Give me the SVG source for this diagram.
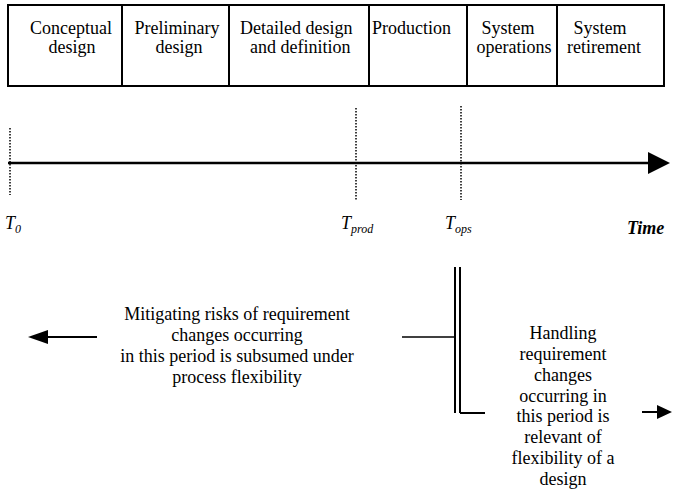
<svg xmlns="http://www.w3.org/2000/svg" width="673" height="491" viewBox="0 0 673 491" font-family="'Liberation Serif', 'Times New Roman', Times, 'DejaVu Serif', serif">
<style>
text{font-family:'Liberation Serif','Times New Roman',Times,'DejaVu Serif',serif;fill:#000;}
.h{font-size:18px;}
.c{text-anchor:middle;}
.t{font-size:18px;font-style:italic;}
.s{font-size:12px;font-style:italic;}
.ln{stroke:#000;fill:none;}
.dot{stroke:#000;stroke-width:1.5;stroke-dasharray:1.5 1.5;fill:none;}
</style>
<g id="phases">
<rect x="8" y="5" width="656" height="81" class="ln" stroke-width="2"/>
<g class="ln" stroke-width="2">
<line x1="122" y1="5" x2="122" y2="86"/>
<line x1="229" y1="5" x2="229" y2="86"/>
<line x1="369" y1="5" x2="369" y2="86"/>
<line x1="467" y1="5" x2="467" y2="86"/>
<line x1="557" y1="5" x2="557" y2="86"/>
</g>
</g>
<g id="phase-conceptual"><text class="h c" x="71" y="34">Conceptual</text><text class="h c" x="72" y="53">design</text></g>
<g id="phase-preliminary"><text class="h c" x="177" y="34">Preliminary</text><text class="h c" x="179" y="53">design</text></g>
<g id="phase-detailed"><text class="h" x="240" y="34">Detailed design</text><text class="h" x="250" y="53">and definition</text></g>
<g id="phase-production"><text class="h" x="372" y="34">Production</text></g>
<g id="phase-operations"><text class="h c" x="508" y="34">System</text><text class="h c" x="514" y="53">operations</text></g>
<g id="phase-retirement"><text class="h c" x="600" y="34">System</text><text class="h c" x="604" y="53">retirement</text></g>
<g id="timeline">
<line x1="8" y1="163" x2="648" y2="163" stroke="#000" stroke-width="2.5"/>
<path d="M648,152L670,163L648,174z" fill="#000"/>
<line x1="10" y1="128" x2="10" y2="195" class="dot"/>
<line x1="356" y1="108" x2="356" y2="200" class="dot"/>
<line x1="461" y1="106" x2="461" y2="200" class="dot"/>
</g>
<g id="label-t0"><text class="t" x="5" y="229">T<tspan class="s" dy="4">0</tspan></text></g>
<g id="label-tprod"><text class="t" x="341" y="229">T<tspan class="s" dy="4">prod</tspan></text></g>
<g id="label-tops"><text class="t" x="445" y="229">T<tspan class="s" dy="4">ops</tspan></text></g>
<g id="label-time"><text x="627" y="234" style="font-size:18px;font-style:italic;font-weight:bold">Time</text></g>
<g id="connectors">
<line x1="455" y1="267" x2="455" y2="413" class="ln" stroke-width="2"/>
<line x1="460" y1="267" x2="460" y2="413" class="ln" stroke-width="2"/>
<line x1="402" y1="337" x2="455" y2="337" class="ln" stroke-width="1.5"/>
<line x1="460" y1="413" x2="485" y2="413" class="ln" stroke-width="2"/>
<line x1="97" y1="337" x2="46" y2="337" class="ln" stroke-width="2"/>
<path d="M48,330L28,337L48,344z" fill="#000"/>
<line x1="642" y1="412" x2="658" y2="412" class="ln" stroke-width="2"/>
<path d="M657,405L672,412L657,419z" fill="#000"/>
</g>
<g id="text-process">
<text class="h c" x="237" y="320">Mitigating risks of requirement</text>
<text class="h c" x="237" y="341">changes occurring</text>
<text class="h c" x="237" y="362">in this period is subsumed under</text>
<text class="h c" x="237" y="383">process flexibility</text>
</g>
<g id="text-design">
<text class="h c" x="563" y="339">Handling</text>
<text class="h c" x="563" y="360">requirement</text>
<text class="h c" x="563" y="381">changes</text>
<text class="h c" x="563" y="402">occurring in</text>
<text class="h c" x="563" y="422">this period is</text>
<text class="h c" x="563" y="443">relevant of</text>
<text class="h c" x="563" y="464">flexibility of a</text>
<text class="h c" x="563" y="485">design</text>
</g>
</svg>
